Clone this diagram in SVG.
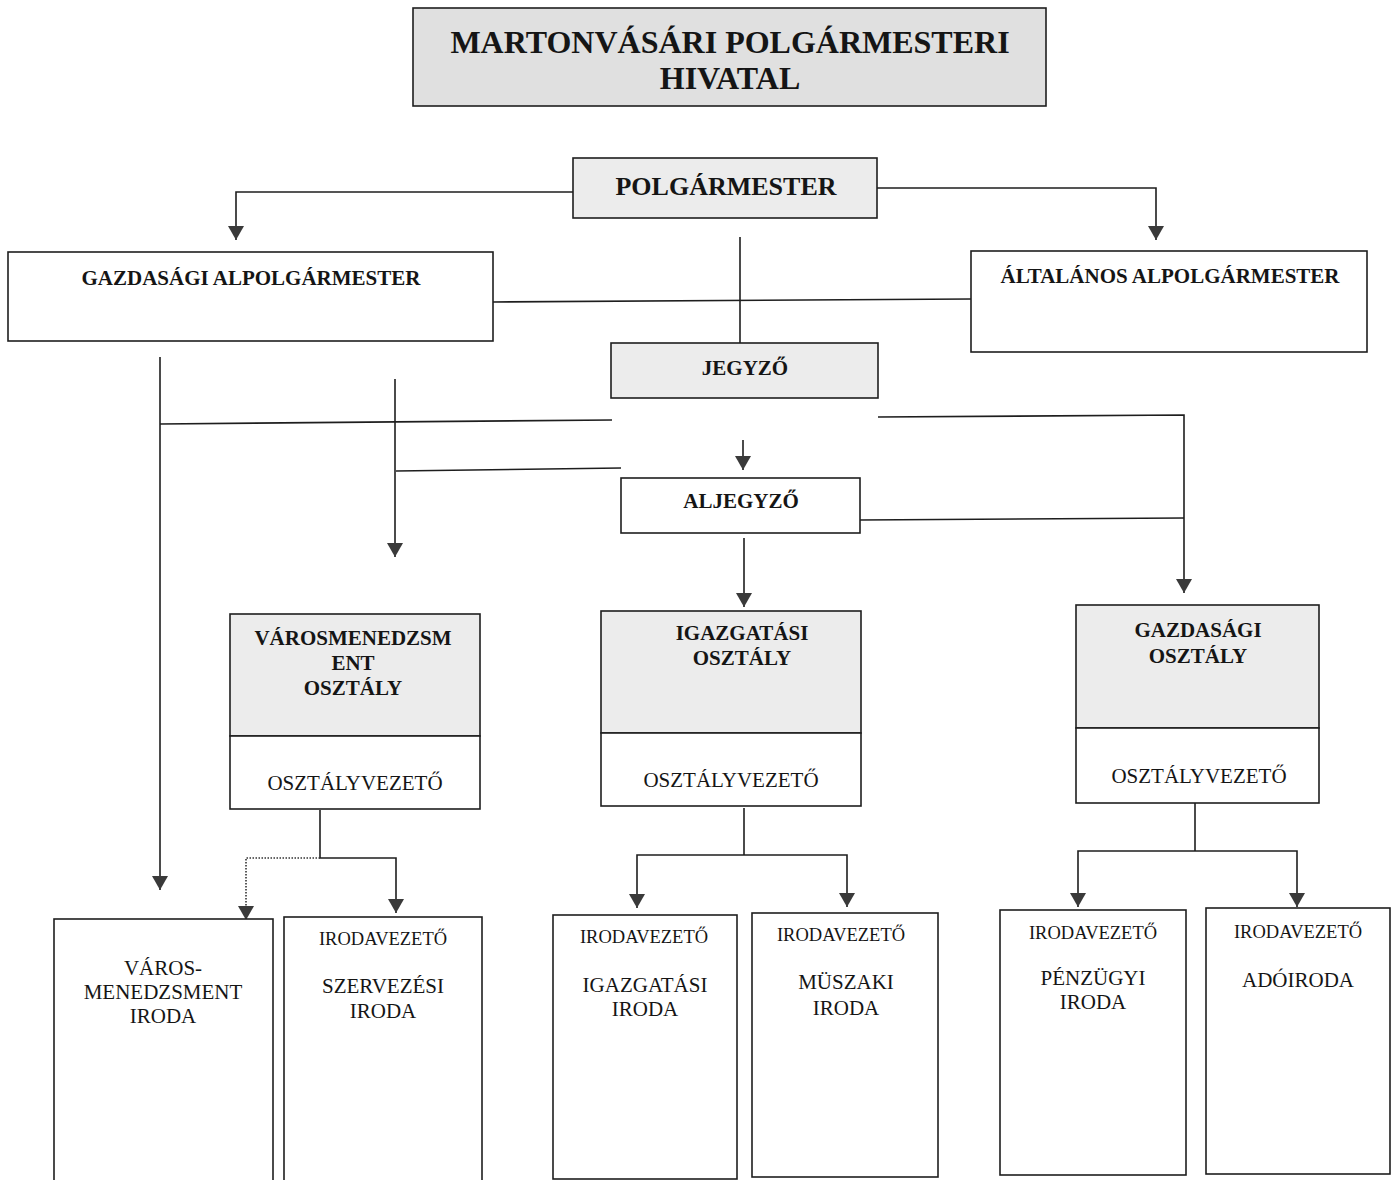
<svg xmlns="http://www.w3.org/2000/svg" width="1394" height="1180" viewBox="0 0 1394 1180">
<style>
  .bx{fill:#ffffff;stroke:#1e1e1e;stroke-width:1.6}
  .gr{fill:#ececec;stroke:#1e1e1e;stroke-width:1.6}
  .tt{fill:#e0e0e0;stroke:#1e1e1e;stroke-width:1.6}
  .ln{fill:none;stroke:#1e1e1e;stroke-width:1.6}
  .ar{fill:none;stroke:#1e1e1e;stroke-width:1.6;marker-end:url(#ah)}
  .dt{fill:none;stroke:#333;stroke-width:1.6;stroke-dasharray:1.5 1.5;marker-end:url(#ah)}
  text{font-family:"Liberation Serif","Times New Roman",serif;fill:#151515;text-anchor:middle}
  .b{font-weight:bold;font-size:21px}
  .r{font-size:21px}
  .s{font-size:18.5px}
</style>
<defs>
  <marker id="ah" markerUnits="userSpaceOnUse" markerWidth="14" markerHeight="16" viewBox="0 0 14 16" refX="14" refY="8" orient="auto">
    <path d="M0,0 L14,8 L0,16 z" fill="#3a3a3a"/>
  </marker>
</defs>

<g id="title">
  <rect class="tt" x="413" y="8" width="633" height="98"/>
  <text x="730" y="53" style="font-weight:bold;font-size:32px">MARTONVÁSÁRI POLGÁRMESTERI</text>
  <text x="730" y="89" style="font-weight:bold;font-size:32px">HIVATAL</text>
</g>

<g id="connectors">
  <path class="ar" d="M573,192 H236 V240"/>
  <path class="ar" d="M877,188 H1156 V240"/>
  <path class="ar" d="M740,237 V362"/>
  <path class="ln" d="M493,302 L971,299"/>
  <path class="ar" d="M160,357 V890"/>
  <path class="ln" d="M160,424 L612,420"/>
  <path class="ar" d="M395,379 V557"/>
  <path class="ln" d="M396,471 L621,468"/>
  <path class="ar" d="M743,440 V470"/>
  <path class="ar" d="M878,417 L1184,415 V593"/>
  <path class="ln" d="M860,520 L1184,518"/>
  <path class="ar" d="M744,538 V607"/>
  <path class="ar" d="M320,810 V858 H396 V913"/>
  <path class="dt" d="M320,858 H246 V920"/>
  <path class="ln" d="M744,808 V855"/>
  <path class="ar" d="M744,855 H637 V908"/>
  <path class="ar" d="M744,855 H847 V907"/>
  <path class="ln" d="M1195,803 V851"/>
  <path class="ar" d="M1195,851 H1078 V907"/>
  <path class="ar" d="M1195,851 H1297 V907"/>
</g>

<g id="polgarmester">
  <rect class="gr" x="573" y="158" width="304" height="60"/>
  <text class="b" x="726" y="195" style="font-size:26px">POLGÁRMESTER</text>
</g>

<g id="gazdasagi-alpolgarmester">
  <rect class="bx" x="8" y="252" width="485" height="89"/>
  <text class="b" x="251" y="285">GAZDASÁGI ALPOLGÁRMESTER</text>
</g>

<g id="altalanos-alpolgarmester">
  <rect class="bx" x="971" y="251" width="396" height="101"/>
  <text class="b" x="1170" y="283">ÁLTALÁNOS ALPOLGÁRMESTER</text>
</g>

<g id="jegyzo">
  <rect class="gr" x="611" y="343" width="267" height="55"/>
  <text class="b" x="745" y="375">JEGYZŐ</text>
</g>

<g id="aljegyzo">
  <rect class="bx" x="621" y="478" width="239" height="55"/>
  <text class="b" x="741" y="508">ALJEGYZŐ</text>
</g>

<g id="varosmenedzsment-osztaly">
  <rect class="gr" x="230" y="614" width="250" height="122"/>
  <rect class="bx" x="230" y="736" width="250" height="73"/>
  <text class="b" x="353" y="645">VÁROSMENEDZSM</text>
  <text class="b" x="353" y="670">ENT</text>
  <text class="b" x="353" y="695">OSZTÁLY</text>
  <text class="r" x="355" y="790">OSZTÁLYVEZETŐ</text>
</g>

<g id="igazgatasi-osztaly">
  <rect class="gr" x="601" y="611" width="260" height="122"/>
  <rect class="bx" x="601" y="733" width="260" height="73"/>
  <text class="b" x="742" y="640">IGAZGATÁSI</text>
  <text class="b" x="742" y="665">OSZTÁLY</text>
  <text class="r" x="731" y="787">OSZTÁLYVEZETŐ</text>
</g>

<g id="gazdasagi-osztaly">
  <rect class="gr" x="1076" y="605" width="243" height="123"/>
  <rect class="bx" x="1076" y="728" width="243" height="75"/>
  <text class="b" x="1198" y="637">GAZDASÁGI</text>
  <text class="b" x="1198" y="663">OSZTÁLY</text>
  <text class="r" x="1199" y="783">OSZTÁLYVEZETŐ</text>
</g>

<g id="varosmenedzsment-iroda">
  <rect class="bx" x="54" y="919" width="219" height="290"/>
  <text class="r" x="163" y="975">VÁROS-</text>
  <text class="r" x="163" y="999">MENEDZSMENT</text>
  <text class="r" x="163" y="1023">IRODA</text>
</g>

<g id="szervezesi-iroda">
  <rect class="bx" x="284" y="917" width="198" height="290"/>
  <text class="s" x="383" y="945">IRODAVEZETŐ</text>
  <text class="r" x="383" y="993">SZERVEZÉSI</text>
  <text class="r" x="383" y="1018">IRODA</text>
</g>

<g id="igazgatasi-iroda">
  <rect class="bx" x="553" y="915" width="184" height="264"/>
  <text class="s" x="644" y="943">IRODAVEZETŐ</text>
  <text class="r" x="645" y="992">IGAZGATÁSI</text>
  <text class="r" x="645" y="1016">IRODA</text>
</g>

<g id="muszaki-iroda">
  <rect class="bx" x="752" y="913" width="186" height="264"/>
  <text class="s" x="841" y="941">IRODAVEZETŐ</text>
  <text class="r" x="846" y="989">MÜSZAKI</text>
  <text class="r" x="846" y="1015">IRODA</text>
</g>

<g id="penzugyi-iroda">
  <rect class="bx" x="1000" y="910" width="186" height="265"/>
  <text class="s" x="1093" y="939">IRODAVEZETŐ</text>
  <text class="r" x="1093" y="985">PÉNZÜGYI</text>
  <text class="r" x="1093" y="1009">IRODA</text>
</g>

<g id="adoiroda">
  <rect class="bx" x="1206" y="908" width="184" height="266"/>
  <text class="s" x="1298" y="938">IRODAVEZETŐ</text>
  <text class="r" x="1298" y="987">ADÓIRODA</text>
</g>
</svg>
